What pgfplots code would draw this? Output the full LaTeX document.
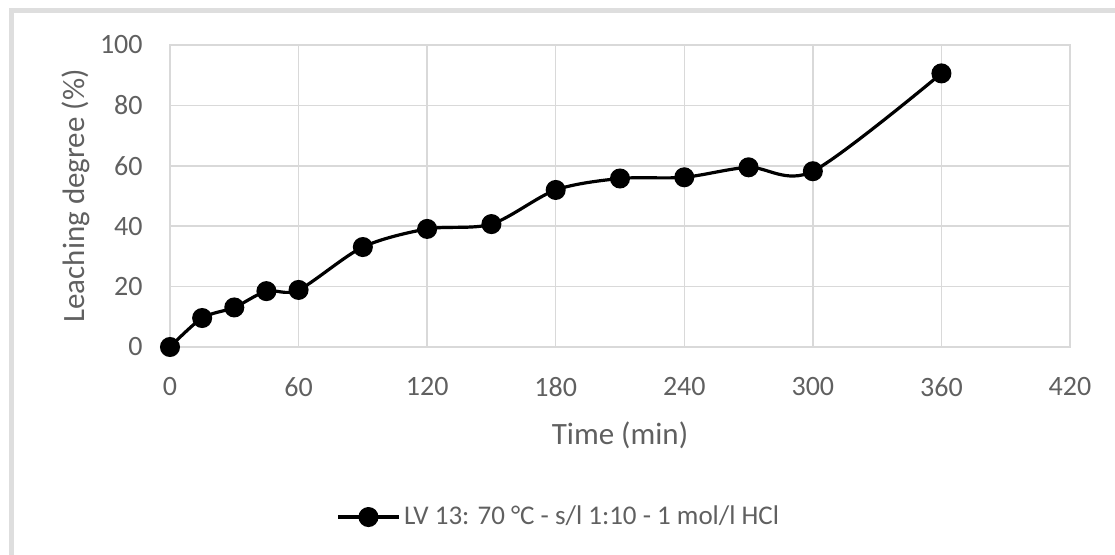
\documentclass[border=0pt]{standalone}
\usepackage{fontspec}
\setmainfont{Carlito}
\usepackage{pgfplots}
\pgfplotsset{compat=1.18}
\definecolor{txtgray}{HTML}{606060}
\definecolor{gridgray}{HTML}{D9D9D9}
\definecolor{framegray}{HTML}{DEDEDE}

\begin{document}
\begin{tikzpicture}
% picture frame: 1 px of the reference = 0.5bp
\path[use as bounding box] (0,0) rectangle (557.5bp,-277.5bp);
\draw[framegray, line width=2.2bp] (5.8bp,-277.5bp) -- (5.8bp,-5.3bp) -- (557.5bp,-5.3bp);

\begin{axis}[
  at={(85bp,-173.5bp)}, anchor=south west,
  scale only axis, width=450bp, height=151bp,
  xmin=0, xmax=420, ymin=0, ymax=100,
  xtick={0,60,...,420}, ytick={0,20,...,100},
  major tick length=0pt,
  grid=major,
  major grid style={gridgray, line width=0.75bp},
  axis line style={gridgray, line width=0.75bp},
  /pgf/number format/assume math mode=true,
  ticklabel style={font=\fontsize{14bp}{16bp}\selectfont, text=txtgray},
  xticklabel style={anchor=center, yshift=-20bp},
  yticklabel style={anchor=east, inner sep=0pt, xshift=-13.5bp},
  xlabel={Time (min)},
  ylabel={Leaching degree (\%)},
  label style={font=\fontsize{15.5bp}{18bp}\selectfont, text=txtgray},
  xlabel style={at={(axis description cs:0.5,0)}, anchor=center, yshift=-44bp},
  ylabel style={at={(axis description cs:0,0.5)}, anchor=center, rotate=0, xshift=0bp},
  every axis y label/.append style={yshift=47bp},
  legend style={draw=none, fill=none, at={(axis description cs:0.4333,-0.563)}, anchor=center,
    font=\fontsize{13.5bp}{16bp}\selectfont, text=txtgray, inner sep=0pt},
  legend image code/.code={\draw[#1, mark repeat=2, mark phase=2] plot coordinates {(0bp,0bp) (15bp,0bp) (30bp,0bp)};},
  legend cell align=left,
]
\addplot[black, line width=1.6bp, smooth, tension=0.5, mark=*, mark size=4.2bp, mark options={solid, fill=black}]
  coordinates {
  (0,0) (15,9.6) (30,13.1) (45,18.5) (60,18.9) (90,33.1) (120,39.1) (150,40.7)
  (180,52.0) (210,55.8) (240,56.2) (270,59.5) (300,58.2) (360,90.6)
  };
\addlegendentry{LV 13: 70 °C - s/l 1:10 - 1 mol/l HCl}
\end{axis}
\end{tikzpicture}
\end{document}
